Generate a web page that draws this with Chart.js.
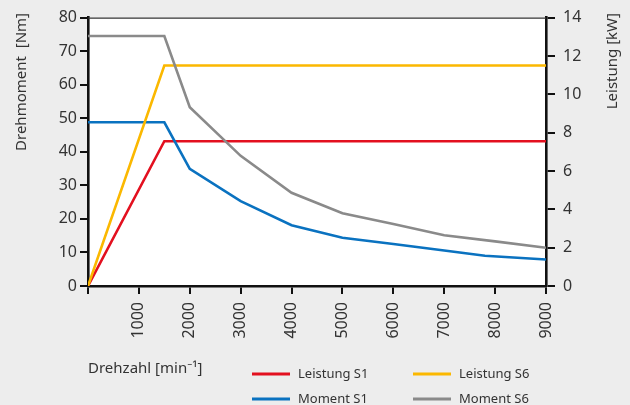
<!DOCTYPE html>
<html>
<head>
<meta charset="utf-8">
<script src="https://cdn.jsdelivr.net/npm/chart.js@4/dist/chart.umd.min.js"></script>
<style>
  html, body { margin: 0; padding: 0; background: #ededed; }
  #wrap { width: 630px; height: 405px; position: relative; }
</style>
</head>
<body>
<div id="wrap"><canvas id="chart" width="630" height="405"></canvas></div>
<script>
// Drehzahl-Stützpunkte (min-1) je Kurve
const rpmMomentS6 = [0, 1500, 2000, 3000, 4000, 5000, 6000, 7000, 8000, 9000];
const rpmMomentS1 = [0, 1500, 2000, 3000, 4000, 5000, 6000, 7000, 7800, 9000];
const rpmLeistung = [0, 1500, 9000];

// Werte
const momentS6 = [74.5, 74.5, 53.3, 38.8, 27.8, 21.7, 18.5, 15.1, 13.3, 11.4];   // Nm
const momentS1 = [48.8, 48.8, 34.9, 25.3, 18.1, 14.4, 12.5, 10.6, 9.0, 7.9];     // Nm
const leistungS1 = [0, 7.55, 7.55];   // kW
const leistungS6 = [0, 11.5, 11.5];   // kW

const legendItems = ["Leistung S1", "Leistung S6", "Moment S1", "Moment S6"];

const FONT = "'Noto Sans', sans-serif";
const TXT = "#333";

function pts(xs, ys){
  return xs.map((x, i) => ({ x: x, y: ys[i] }));
}

// weisser Plotbereich, obere Linie, Titel, Legende
const decor = {
  id: "decor",
  beforeDraw(chart){
    const { ctx, chartArea: a } = chart;
    ctx.save();
    ctx.fillStyle = "#fff";
    ctx.fillRect(a.left, a.top, a.right - a.left, a.bottom - a.top);
    ctx.restore();
  },
  afterDraw(chart){
    const { ctx, chartArea: a } = chart;
    ctx.save();
    // obere Rahmenlinie
    ctx.strokeStyle = "#333";
    ctx.lineWidth = 1.2;
    ctx.beginPath();
    ctx.moveTo(a.left, a.top + 0.5);
    ctx.lineTo(a.right, a.top + 0.5);
    ctx.stroke();

    ctx.fillStyle = TXT;
    ctx.font = "15px " + FONT;
    ctx.textBaseline = "middle";

    // Achsentitel links
    ctx.save();
    ctx.translate(22, 13);
    ctx.rotate(-Math.PI / 2);
    ctx.textAlign = "right";
    ctx.fillText("Drehmoment  [Nm]", 0, 0);
    ctx.restore();

    // Achsentitel rechts
    ctx.save();
    ctx.translate(613, 13);
    ctx.rotate(-Math.PI / 2);
    ctx.textAlign = "right";
    ctx.fillText("Leistung [kW]", 0, 0);
    ctx.restore();

    // x-Titel
    ctx.textAlign = "left";
    ctx.fillText("Drehzahl [min⁻¹]", 88, 369);

    // Legende
    const ds = chart.data.datasets;
    const pos = [[252, 374], [413, 374], [252, 399], [413, 399]];
    ctx.font = "13px " + FONT;
    legendItems.forEach((name, i) => {
      const d = ds.find(s => s.label === name);
      const [lx, ly] = pos[i];
      ctx.strokeStyle = d.borderColor;
      ctx.lineWidth = 3;
      ctx.beginPath();
      ctx.moveTo(lx, ly);
      ctx.lineTo(lx + 38, ly);
      ctx.stroke();
      ctx.fillStyle = TXT;
      ctx.fillText(name, lx + 46, ly);
    });
    ctx.restore();
  }
};

const tickFont = { family: FONT, size: 16 };

new Chart(document.getElementById("chart"), {
  type: "line",
  data: {
    datasets: [
      { label: "Moment S6", data: pts(rpmMomentS6, momentS6), borderColor: "#8a8a8a", yAxisID: "y" },
      { label: "Leistung S6", data: pts(rpmLeistung, leistungS6), borderColor: "#fbb800", yAxisID: "y2" },
      { label: "Moment S1", data: pts(rpmMomentS1, momentS1), borderColor: "#0a72c0", yAxisID: "y" },
      { label: "Leistung S1", data: pts(rpmLeistung, leistungS1), borderColor: "#e3101f", yAxisID: "y2" }
    ]
  },
  options: {
    responsive: false,
    animation: false,
    layout: { padding: { top: 16, left: 0, right: 0, bottom: 0 } },
    elements: {
      line: { borderWidth: 2.6, tension: 0, fill: false },
      point: { radius: 0 }
    },
    plugins: { legend: { display: false }, tooltip: { enabled: false } },
    scales: {
      x: {
        type: "linear",
        min: 0, max: 9000,
        afterFit: s => { s.height = 119; },
        ticks: {
          stepSize: 1000,
          minRotation: 90, maxRotation: 90,
          padding: 8,
          color: TXT, font: tickFont,
          callback: v => v === 0 ? "" : String(v)
        },
        grid: { drawOnChartArea: false, drawTicks: true, tickLength: 8, color: "#111", lineWidth: 2 },
        border: { display: true, color: "#111", width: 2.6 }
      },
      y: {
        position: "left",
        min: 0, max: 80,
        afterFit: s => { s.width = 88; },
        ticks: { stepSize: 10, padding: 3, color: TXT, font: tickFont },
        grid: { drawOnChartArea: false, drawTicks: true, tickLength: 8, color: "#111", lineWidth: 2 },
        border: { display: true, color: "#111", width: 2.6 }
      },
      y2: {
        position: "right",
        min: 0, max: 14,
        afterFit: s => { s.width = 84; },
        ticks: { stepSize: 2, padding: 8, color: TXT, font: tickFont },
        grid: { drawOnChartArea: false, drawTicks: true, tickLength: 9, color: "#111", lineWidth: 2 },
        border: { display: true, color: "#111", width: 2.6 }
      }
    }
  },
  plugins: [decor]
});
</script>
</body>
</html>
